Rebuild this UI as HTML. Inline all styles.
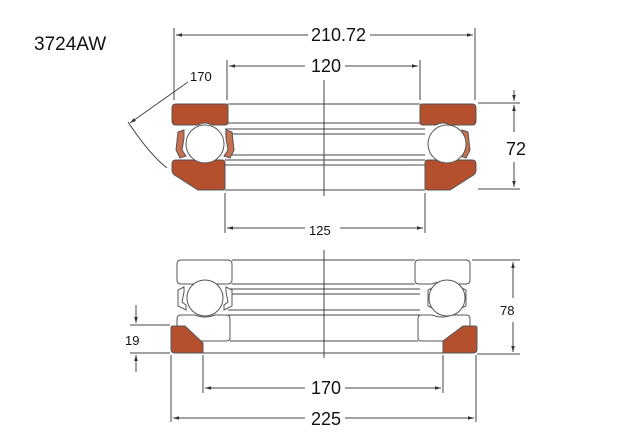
<!DOCTYPE html>
<html><head><meta charset="utf-8"><style>
html,body{margin:0;padding:0;background:#fff;}
svg{display:block;font-family:"Liberation Sans",sans-serif;}
</style></head><body>
<svg width="640" height="440" viewBox="0 0 640 440" xmlns="http://www.w3.org/2000/svg">
<defs>
<marker id="a" viewBox="0 0 10 10" refX="10" refY="5" markerWidth="8" markerHeight="6" orient="auto-start-reverse"><path d="M0,2 L10,5 L0,8 z" fill="#333"/></marker>
</defs>
<text x="34" y="50" font-size="19" fill="#111">3724AW</text>
<g stroke="#444" stroke-width="1" fill="none">
<!-- top dims -->
<line x1="174" y1="28" x2="174" y2="100"/><line x1="475" y1="28" x2="475" y2="100"/>
<line x1="176" y1="35" x2="308" y2="35" marker-start="url(#a)"/><line x1="370" y1="35" x2="473" y2="35" marker-end="url(#a)"/>
<line x1="227" y1="60" x2="227" y2="100"/><line x1="420" y1="60" x2="420" y2="100"/>
<line x1="229" y1="66" x2="305" y2="66" marker-start="url(#a)"/><line x1="345" y1="66" x2="418" y2="66" marker-end="url(#a)"/>
<line x1="324" y1="80" x2="324" y2="196"/>
<line x1="478" y1="103" x2="520" y2="103"/><line x1="478" y1="189" x2="520" y2="189"/>
<line x1="514" y1="90" x2="514" y2="101" marker-end="url(#a)"/><line x1="514" y1="105" x2="514" y2="132" marker-start="url(#a)"/>
<line x1="514" y1="162" x2="514" y2="187" marker-end="url(#a)"/>
<line x1="225" y1="193" x2="225" y2="233"/><line x1="425" y1="193" x2="425" y2="233"/>
<line x1="227" y1="228" x2="305" y2="228" marker-start="url(#a)"/><line x1="340" y1="228" x2="423" y2="228" marker-end="url(#a)"/>
<line x1="188" y1="82" x2="130" y2="123" marker-end="url(#a)"/>
<path d="M128,122 Q150,155 167,168"/>
<!-- top bearing lines -->
<line x1="228" y1="104" x2="420" y2="104"/><line x1="228" y1="123" x2="420" y2="123"/>
<line x1="225" y1="129" x2="425" y2="129"/><line x1="225" y1="134" x2="425" y2="134"/>
<line x1="225" y1="155" x2="425" y2="155"/><line x1="225" y1="160" x2="425" y2="160"/>
<line x1="225" y1="165" x2="425" y2="165"/><line x1="225" y1="190" x2="425" y2="190"/>
</g>
<g fill="#b5502e" stroke="#555" stroke-width="1">
<path d="M176,104 H226 Q228,104 228,107 V122 Q228,125 225,125 H212 Q205,121 198,125 H176 Q172,125 172,121 V108 Q172,104 176,104 z"/>
<path d="M472,104 H422 Q420,104 420,107 V122 Q420,125 423,125 H436 Q443,121 450,125 H472 Q476,125 476,121 V108 Q476,104 472,104 z"/>
<path d="M176,160 H198 Q205,164 212,160 H222 Q225,160 225,163 V188 Q225,190 222,190 H198 L176,176 Q172,174 172,170 V164 Q172,160 176,160 z"/>
<path d="M472,160 H450 Q443,164 436,160 H428 Q425,160 425,163 V188 Q425,190 428,190 H450 L472,176 Q476,174 476,170 V164 Q476,160 472,160 z"/>
</g>
<g fill="#fff" stroke="#555" stroke-width="1">
<path d="M184,130 L178,132 L176,150 L180,158 L186,156 L182,150 L184,138 z" fill="#c87050"/>
<path d="M226,130 L232,132 L234,150 L230,158 L224,156 L228,150 L226,138 z" fill="#c87050"/>
<path d="M440,130 L434,132 L432,150 L436,158 L442,156 L438,150 L440,138 z" fill="#c87050"/>
<path d="M462,130 L468,132 L470,150 L466,158 L460,156 L464,150 L462,138 z" fill="#c87050"/>
<circle cx="205" cy="144" r="19"/><circle cx="447" cy="144" r="19"/>
</g>
<text x="311" y="41" font-size="18" fill="#111">210.72</text>
<text x="311" y="72" font-size="18" fill="#111">120</text>
<text x="190" y="81" font-size="13" fill="#111">170</text>
<text x="506" y="155" font-size="18" fill="#111">72</text>
<text x="309" y="235" font-size="13" fill="#111">125</text>
<!-- bottom -->
<g stroke="#444" stroke-width="1" fill="none">
<line x1="324" y1="250" x2="324" y2="358"/>
<line x1="472" y1="260" x2="520" y2="260"/><line x1="477" y1="354" x2="520" y2="354"/>
<line x1="513" y1="262" x2="513" y2="298" marker-start="url(#a)"/><line x1="513" y1="322" x2="513" y2="352" marker-end="url(#a)"/>
<line x1="130" y1="325" x2="170" y2="325"/><line x1="130" y1="353" x2="170" y2="353"/>
<line x1="136" y1="305" x2="136" y2="323" marker-end="url(#a)"/><line x1="136" y1="372" x2="136" y2="355" marker-end="url(#a)"/>
<line x1="203" y1="355" x2="203" y2="393"/><line x1="443" y1="355" x2="443" y2="393"/>
<line x1="205" y1="388" x2="305" y2="388" marker-start="url(#a)"/><line x1="345" y1="388" x2="441" y2="388" marker-end="url(#a)"/>
<line x1="171" y1="355" x2="171" y2="422"/><line x1="476" y1="355" x2="476" y2="422"/>
<line x1="173" y1="418" x2="305" y2="418" marker-start="url(#a)"/><line x1="345" y1="418" x2="474" y2="418" marker-end="url(#a)"/>
<line x1="232" y1="260" x2="415" y2="260"/><line x1="232" y1="284" x2="415" y2="284"/>
<line x1="228" y1="289" x2="420" y2="289"/><line x1="228" y1="294" x2="420" y2="294"/>
<line x1="228" y1="310" x2="420" y2="310"/><line x1="228" y1="315" x2="420" y2="315"/>
<line x1="230" y1="341" x2="418" y2="341"/><line x1="203" y1="353" x2="443" y2="353"/>
</g>
<g fill="#fff" stroke="#555" stroke-width="1">
<path d="M181,260 H228 Q232,260 232,264 V280 Q232,284 228,284 H215 Q205,280 195,284 H181 Q177,284 177,280 V264 Q177,260 181,260 z"/>
<path d="M466,260 H419 Q415,260 415,264 V280 Q415,284 419,284 H432 Q442,280 452,284 H466 Q470,284 470,280 V264 Q470,260 466,260 z"/>
<path d="M181,315 H195 Q205,319 215,315 H226 Q230,315 230,319 V338 Q230,341 226,341 H181 Q177,341 177,337 V319 Q177,315 181,315 z"/>
<path d="M466,315 H452 Q442,319 432,315 H421 Q418,315 418,319 V338 Q418,341 421,341 H466 Q470,341 470,337 V319 Q470,315 466,315 z"/>
<path d="M184,287 L178,290 L178,306 L186,310 L186,305 L182,302 L184,292 z"/>
<path d="M226,287 L232,290 L232,306 L224,310 L224,305 L228,302 L226,292 z"/>
<path d="M434,287 L428,290 L428,306 L436,310 L436,305 L432,302 L434,292 z"/>
<path d="M460,287 L466,290 L466,306 L458,310 L458,305 L462,302 L460,292 z"/>
<circle cx="205" cy="298" r="18"/><circle cx="447" cy="298" r="18"/>
</g>
<g fill="#b5502e" stroke="#555" stroke-width="1">
<path d="M173,326 H185 L203,343 V353 H175 Q171,353 171,349 V328 Q171,326 173,326 z"/>
<path d="M475,326 H463 L443,341 V353 H473 Q477,353 477,349 V328 Q477,326 475,326 z"/>
</g>
<text x="311" y="394" font-size="18" fill="#111">170</text>
<text x="311" y="425" font-size="18" fill="#111">225</text>
<text x="500" y="315" font-size="13" fill="#111">78</text>
<text x="125" y="345" font-size="13" fill="#111">19</text>
</svg>
</body></html>
